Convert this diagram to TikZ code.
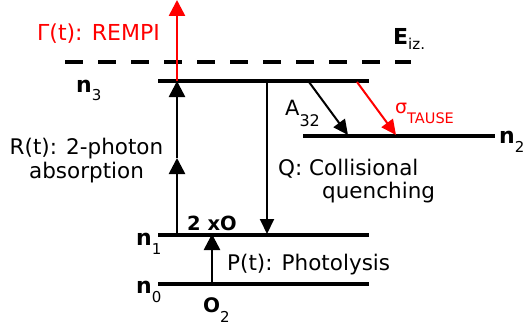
\documentclass[tikz,border=0pt]{standalone}
\usepackage{fontspec}
\setmainfont{DejaVu Sans}
\usetikzlibrary{arrows.meta}
\definecolor{rred}{RGB}{255,0,0}
\newcommand{\lvlname}[2]{{\bfseries\fontsize{22}{24}\selectfont n}\raisebox{-9pt}{\fontsize{15}{16}\selectfont #2}}
\tikzset{
  level/.style={line width=3.5pt},
  txt/.style={inner sep=0pt, font=\fontsize{21.5}{24}\selectfont},
  lbl/.style={inner sep=0pt, anchor=base west},
  bigarrow/.style={line width=2.6pt, -{Triangle[width=16pt,length=16pt]}},
  thinarrow/.style={line width=2pt, -{Triangle[width=14pt,length=15pt]}}
}
\begin{document}
\begin{tikzpicture}[x=1pt,y=-1pt]
\useasboundingbox (0,0) rectangle (524,329);
% levels
\coordinate (dashL) at (65,62);
\coordinate (dashR) at (411,62);
\draw[line width=4.5pt, dash pattern=on 18pt off 15pt] (dashL) -- (dashR);
\coordinate (n3L) at (158,81);
\coordinate (n3R) at (369,81);
\coordinate (n2L) at (303,136);
\coordinate (n2R) at (495,136);
\coordinate (n1L) at (158,235);
\coordinate (n1R) at (369,235);
\coordinate (n0L) at (158,284);
\coordinate (n0R) at (369,284);
\draw[level] (n3L) -- (n3R);
\draw[level] (n2L) -- (n2R);
\draw[level] (n1L) -- (n1R);
\draw[level] (n0L) -- (n0R);
% arrow coordinates
\coordinate (rempiS) at (177,81);
\coordinate (rempiE) at (177,0);
\coordinate (rS) at (177,235);
\coordinate (rM) at (177,158);
\coordinate (rE) at (177,81);
\coordinate (qS) at (267,81);
\coordinate (qE) at (267,234);
\coordinate (aS) at (309,82);
\coordinate (aE) at (348,135);
\coordinate (sS) at (357,82);
\coordinate (sE) at (396,135);
\coordinate (pS) at (212,284);
\coordinate (pE) at (212,234);
% arrows
\draw[bigarrow, rred] (rempiS) -- (rempiE);
\draw[bigarrow] (rS) -- (rM);
\draw[bigarrow] (rM) -- (rE);
\draw[thinarrow] (qS) -- (qE);
\draw[thinarrow] (aS) -- (aE);
\draw[thinarrow, rred] (sS) -- (sE);
\draw[bigarrow] (pS) -- (pE);
% labels
\node[lbl, text=rred, font=\fontsize{22}{24}\selectfont] (rempi) at (37,41) {Γ(t): REMPI};
\node[lbl] (eiz) at (393,45) {{\bfseries\fontsize{22}{24}\selectfont E}\raisebox{-5pt}{\fontsize{15}{16}\selectfont iz.}};
\node[lbl] (ln3) at (76,92) {\lvlname{n}{3}};
\node[lbl] (ln2) at (499,143) {\lvlname{n}{2}};
\node[lbl] (ln1) at (136,245) {\lvlname{n}{1}};
\node[lbl] (ln0) at (136,293) {\lvlname{n}{0}};
\node[txt, align=center] (rtext) at (86.5,161) {R(t): 2-photon\\absorption};
\node[txt, lbl] (q1) at (278,175) {Q: Collisional};
\node[txt, lbl] (q2) at (322,198) {quenching};
\node[txt, lbl] (ptext) at (227,270) {P(t): Photolysis};
\node[lbl] (a32) at (285,115) {{\fontsize{21}{22}\selectfont A}\raisebox{-11pt}{\fontsize{16}{17}\selectfont 32}};
\node[lbl, text=rred] (sigma) at (395,113) {{\fontsize{19}{20}\selectfont σ}\raisebox{-10pt}{\fontsize{14.5}{16}\selectfont TAUSE}};
\node[lbl] (twoxo) at (187,230) {\bfseries\fontsize{19.5}{21}\selectfont 2 xO};
\node[lbl] (o2) at (203,312) {{\bfseries\fontsize{20}{22}\selectfont O}\raisebox{-10pt}{\fontsize{15}{16}\selectfont 2}};
\end{tikzpicture}
\end{document}
